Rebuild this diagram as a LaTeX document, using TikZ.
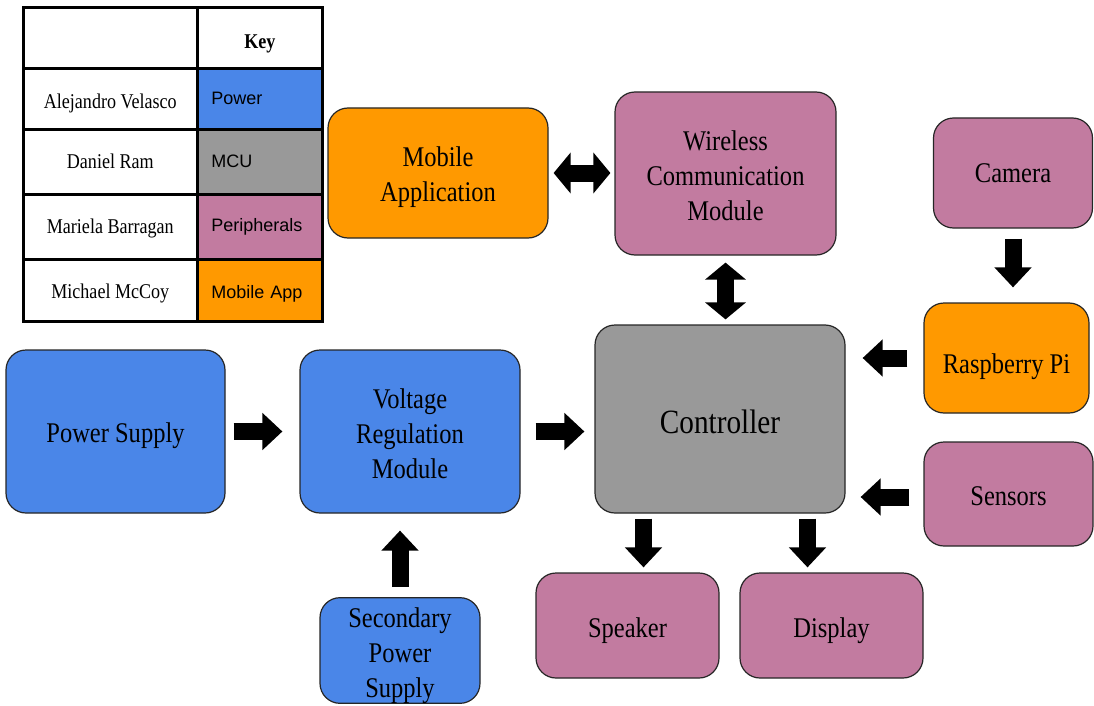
\documentclass[tikz,border=0pt]{standalone}
\usepackage{fontspec}
\setmainfont[FakeStretch=0.86]{Liberation Serif}
\setsansfont{Liberation Sans}
\usetikzlibrary{arrows.meta, calc}

\definecolor{pwr}{HTML}{4A86E8}
\definecolor{mcu}{HTML}{999999}
\definecolor{peri}{HTML}{C27BA0}
\definecolor{app}{HTML}{FF9900}

% taller first line, pushes a stacked label down a bit
\newcommand{\lift}[1]{\rule{0pt}{#1}}

\begin{document}
\begin{tikzpicture}[x=1pt,y=-1pt]
  \tikzset{
    blk/.style={draw=black!85, line width=1.2pt, rounded corners=20pt,
                inner sep=0pt, align=center,
                font=\fontsize{28.5}{35}\selectfont},
    low/.style={text height=#1, text depth=0pt},
    keycell/.style={draw, line width=2.6pt, inner sep=0pt, anchor=north west,
                    text height=17pt, text depth=0pt,
                    font=\fontsize{21}{24}\selectfont},
    colcell/.style={draw, line width=2.6pt, inner sep=0pt, anchor=north west,
                    text width=97pt, inner xsep=14pt, align=left,
                    font=\sffamily\fontsize{18}{20}\selectfont},
    fat/.style={line width=17pt, -{Triangle[length=20pt,width=36pt]}},
    fatboth/.style={line width=17pt, {Triangle[length=17pt,width=40pt]}-{Triangle[length=17pt,width=40pt]}},
  }
  \useasboundingbox (0,0) rectangle (1094,706);

  % key table
  \node[keycell, minimum width=174pt, minimum height=61pt] (k0)  at (22,6)   {};
  \node[keycell, minimum width=125pt, minimum height=61pt, text height=21pt, font=\bfseries\fontsize{21}{24}\selectfont] (k0c) at (196,6) {Key};
  \node[keycell, minimum width=174pt, minimum height=61pt, text height=19pt] (k1)  at (22,67)  {Alejandro Velasco};
  \node[colcell, fill=pwr,  minimum height=61pt] (k1c) at (196,67)  {Power};
  \node[keycell, minimum width=174pt, minimum height=65pt, text height=14pt] (k2)  at (22,128) {Daniel Ram};
  \node[colcell, fill=mcu,  minimum height=65pt] (k2c) at (196,128) {MCU};
  \node[keycell, minimum width=174pt, minimum height=65pt, text height=14pt] (k3)  at (22,193) {Mariela Barragan};
  \node[colcell, fill=peri, minimum height=65pt] (k3c) at (196,193) {Peripherals};
  \node[keycell, minimum width=174pt, minimum height=62pt, text height=16pt] (k4)  at (22,258) {Michael McCoy};
  \node[colcell, fill=app,  minimum height=62pt, text height=16pt, text depth=0pt] (k4c) at (196,258) {Mobile App};

  % blocks
  \node[blk, fill=app,  minimum width=220pt, minimum height=130pt] (mob)  at (438,173)   {\lift{28.5pt}Mobile\\Application};
  \node[blk, fill=peri, minimum width=221pt, minimum height=163pt] (wcm)  at (725.5,173.5) {\lift{23.5pt}Wireless\\Communication\\Module};
  \node[blk, fill=peri, minimum width=159pt, minimum height=110pt, low=19pt] (cam)  at (1013,173)  {Camera};
  \node[blk, fill=app,  minimum width=165pt, minimum height=110pt, low=31pt] (rpi)  at (1006.5,358) {Raspberry Pi};
  \node[blk, fill=mcu,  minimum width=250pt, minimum height=188pt, low=28.5pt, font=\fontsize{34}{40}\selectfont] (ctrl) at (720,419) {Controller};
  \node[blk, fill=peri, minimum width=169pt, minimum height=104pt, low=23pt] (sen)  at (1008.5,494) {Sensors};
  \node[blk, fill=pwr,  minimum width=219pt, minimum height=163pt, low=22pt] (ps)   at (115.5,431.5) {Power Supply};
  \node[blk, fill=pwr,  minimum width=220pt, minimum height=163pt] (vrm)  at (410,431.5) {\lift{23.5pt}Voltage\\Regulation\\Module};
  \node[blk, fill=pwr,  minimum width=160pt, minimum height=105pt] (sps)  at (400,650.5) {\lift{29.5pt}Secondary\\Power\\Supply};
  \node[blk, fill=peri, minimum width=183pt, minimum height=105pt, low=24pt] (spk)  at (627.5,625.5) {Speaker};
  \node[blk, fill=peri, minimum width=183pt, minimum height=105pt, low=24pt] (dsp)  at (831.5,625.5) {Display};

  \coordinate (spkin) at ([xshift=16pt]spk.north);
  \coordinate (dspin) at ([xshift=-24pt]dsp.north);

  % arrows
  \draw[fatboth, shorten <=5pt, shorten >=4pt] (mob.east) -- (mob.east -| wcm.west);
  \draw[fatboth, shorten <=7pt, shorten >=5pt] (wcm.south) -- (wcm.south |- ctrl.north);
  \draw[fat, shorten <=10pt, shorten >=15pt] (cam.south) -- (cam.south |- rpi.north);
  \draw[fat, shorten <=16pt, shorten >=17pt] (rpi.west) -- (rpi.west -| ctrl.east);
  \draw[fat, shorten <=14pt, shorten >=15pt] ([yshift=-3pt]sen.west) -- ([yshift=-3pt]sen.west -| ctrl.east);
  \draw[fat, shorten <=8pt, shorten >=17pt] (ps.east) -- (vrm.west);
  \draw[fat, shorten <=15pt, shorten >=10pt] (vrm.east) -- (vrm.east -| ctrl.west);
  \draw[fat, shorten <=10pt, shorten >=17pt] (sps.north) -- (sps.north |- vrm.south);
  \draw[fat, shorten <=5pt, shorten >=5pt] (spkin |- ctrl.south) -- (spkin);
  \draw[fat, shorten <=5pt, shorten >=5pt] (dspin |- ctrl.south) -- (dspin);
\end{tikzpicture}
\end{document}
